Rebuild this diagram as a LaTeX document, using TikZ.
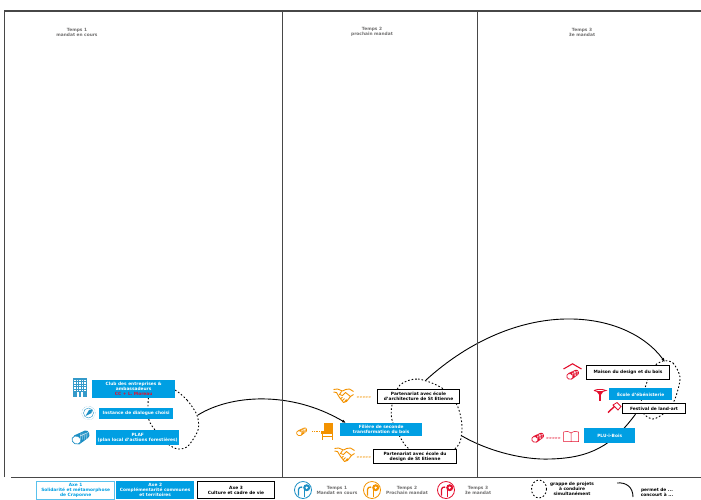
\documentclass[tikz,border=0pt]{standalone}
\usepackage{fontspec}
\setmainfont{DejaVu Sans}
\usepackage{xcolor}
\usetikzlibrary{
  arrows.meta,
  backgrounds,
  positioning,
  calc
}
\definecolor{axeblue}{HTML}{009FE3}
\definecolor{tempsorange}{HTML}{F39200}
\definecolor{tempsred}{HTML}{E30F2D}
\definecolor{tempsblue}{HTML}{1D8FC4}
\definecolor{greytext}{HTML}{706F6F}
\tikzset{
  txt/.style      = {font=\bfseries\fontsize{4.35}{5}\selectfont, align=center, inner sep=0pt},
  axeb/.style     = {txt, fill=axeblue, text=white, anchor=north west},
  axew/.style     = {txt, fill=white, draw=black, line width=1.1pt, anchor=north west},
  axel/.style     = {txt, fill=white, draw=axeblue!65, line width=1.3pt, text=axeblue, anchor=north west},
  head/.style     = {txt, text=greytext},
  legtemps/.style = {txt, text=greytext},
  legtxt/.style   = {txt},
  grappe/.style   = {line width=0.9pt, dash pattern=on 1.6pt off 2pt},
  lien/.style     = {line width=0.9pt, -{Latex[length=4pt,width=3pt]}},
  frameline/.style = {line width=1.1pt, black!72},
  chevrons/.style = {inner sep=0pt, font=\bfseries\fontsize{3.5}{4}\selectfont},
  % Icons
  logicon/.pic = {
    \fill [#1] (-7,-2.5) -- (4,-7.5) .. controls (8,-8.5) and (10,-2) .. (7,0) -- (-2,6.5) -- cycle;
    \draw [#1, fill=white, line width=0.7pt, rotate around={-25:(-4.5,2)}] (-4.5,2) ellipse (4.6 and 4);
    \foreach \lx in {0,2,4,6} \draw [white, line width=0.35pt] (\lx,-5.5) -- ++(-0.3,7);
    \draw [white, line width=0.35pt] (-1,-2) -- (7,-5.5);
  },
  templeicon/.pic = {
    \draw [#1, line width=0.8pt] (0,0) circle (8.5);
    \draw [#1, line width=1.3pt] (-4.5,5.5) -- (-4.5,-0.5) .. controls (-4.5,-2.5) and (-3,-3) .. (-0.8,-3);
    \draw [#1, line width=1.4pt] (1.4,6.5) -- (1.4,-2);
    \fill [#1] (3.7,-2.3) circle (3.5);
    \fill [white] (3.7,-2.3) circle (1.3);
  },
  handicon/.pic = {
    \draw [tempsorange, line width=0.9pt, line join=round]
      (-10,-6) -- (-6,-6.5) -- (-1,-4.5) -- (2,-6) -- (6,-6.5) -- (10,-4)
      (-10,-3.5) -- (-7,-3) -- (-4,2) -- (0,7) -- (3,6) -- (7,1) -- (10,-1)
      (-2,-4) -- (-4,-1) -- (-1,0) -- (2,-3) -- (7,1)
      (-3,3.5) -- (-1,1.5) (-1,5) -- (1,3) (1,6.5) -- (3,4);
  }
}
\begin{document}
\begin{tikzpicture}[x=1pt, y=-1pt]
  \useasboundingbox (0,0) rectangle (701,499);

  % Frame
  \draw [frameline] (4.5,477) -- (4.5,11) -- (701,11);
  \draw [frameline] (282.5,11) -- (282.5,477);
  \draw [frameline] (477.5,11) -- (477.5,477);
  \draw [frameline] (11,477.5) -- (701,477.5);

  \node [head] at (77,  32) {Temps 1\\mandat en cours};
  \node [head] at (372, 32) {Temps 2\\prochain mandat};
  \node [head] at (582, 32) {Temps 3\\3e mandat};

  % Project groups
  \draw [grappe] plot [smooth cycle] coordinates {(175,390) (187,400) (197,415) (198,430) (188,446) (178,449) (168,444) (155,430) (149,420) (148,405) (150,392) (160,385)};
  \draw [grappe] plot [smooth cycle] coordinates {(400,385) (418,379) (442,388) (457,405) (462,427) (457,447) (430,460) (408,448) (399,435) (392,420) (392,405)};
  \draw [grappe] plot [smooth cycle] coordinates {(663,361) (673,363) (680,377) (677,393) (672,405) (663,414) (653,419) (644,414) (641,402) (647,382) (652,368)};

  % Time 1
  \node [axeb, minimum width=83, minimum height=18] (club) at (92,380) {Club des entreprises \&\\ambassadeurs\\\textcolor{tempsred}{CC + L. Moreau}};
  \node [axeb, minimum width=74, minimum height=11] (instance) at (99,408) {Instance de dialogue choisi};
  \node [axeb, minimum width=83, minimum height=15] (plaf) at (96,430) {PLAF\\(plan local d'actions forestières)};

  % Time 2
  \node [axew, minimum width=82, minimum height=14] (archi) at (377,389) {Partenariat avec école\\d'architecture de St Etienne};
  \node [axeb, minimum width=82, minimum height=13] (filiere) at (340,423) {Filière de seconde\\transformation du bois};
  \node [axew, minimum width=83, minimum height=14] (design) at (373,449) {Partenariat avec école du\\design de St Etienne};

  % Time 3
  \node [axew, minimum width=83, minimum height=14] (maison) at (586,365) {Maison du design et du bois};
  \node [axeb, minimum width=63, minimum height=12] (ecole) at (609,388) {École d'ébénisterie};
  \node [axew, minimum width=63, minimum height=10] (festival) at (622,403) {Festival de land-art};
  \node [axeb, minimum width=51, minimum height=15] (plu) at (584,428) {PLU-i-Bois};

  % Links
  \coordinate (g1) at (198,415);
  \coordinate (g2a) at (426,380);
  \coordinate (g2b) at (462,436);
  \coordinate (g3) at (665,362);
  \begin{scope}[on background layer]
    \draw [lien] (g1) .. controls (230,395) and (290,390) .. ($(filiere.north west)+(6,0)$);
    \draw [lien] (g2a) .. controls (470,340) and (520,320) .. (565,319) .. controls (610,318) and (645,335) .. (g3);
    \draw [line width=0.9pt] (g2b) .. controls (490,452) and (525,460) .. (550,459) .. controls (590,458) and (612,446) .. ($(festival.south)+(-18.5,0)$);
  \end{scope}

  % Icons, time 1
  \fill [tempsblue!90] (72.5,378) rectangle (87,397);
  \foreach \wx in {74,76.5,...,84.5}
    \foreach \wy in {379.5,382,...,389.5}
      \fill [white] (\wx,\wy) rectangle ++(1.5,1.5);
  \fill [white] (77,392) rectangle (82.5,397);
  \fill [tempsblue!90] (79,392) rectangle (80.5,397);
  \draw [tempsblue, line width=0.3pt, densely dotted] (88.5,413) circle (6.8);
  \draw [tempsblue, line width=0.4pt] (88.5,413) circle (5);
  \fill [tempsblue] (85.5,416) -- (89,410) -- (92,409.5) -- (91.5,413) -- cycle;
  \pic at (81,438) {logicon=tempsblue};

  % Icons, time 2
  \pic at (343.5,395.5) {handicon};
  \pic at (344.5,454.5) {handicon};
  \node [chevrons, text=tempsorange] at (364,397.5) {{>}{>}{>}{>}{>}};
  \node [chevrons, text=tempsorange] at (364,457) {{>}{>}{>}{>}{>}};
  \pic [scale=0.6] at (302,432) {logicon=tempsorange};
  \draw [tempsorange, line width=0.8pt, densely dotted] (312,431) -- (320,431);
  \fill [tempsorange] (324,423) rectangle (333,431);
  \fill [tempsorange] (321,431) rectangle (333,433.5);
  \draw [tempsorange, line width=0.9pt] (322,433) -- (322,439.5) (332,425) -- (332,439.5);
  \draw [tempsorange, line width=0.5pt] (322,436.5) -- (332,436.5);

  % Icons, time 3
  \draw [tempsred, line width=1.1pt] (563.5,369) -- (572.5,363.8) -- (581.5,369);
  \pic [scale=0.7] at (573,375) {logicon=tempsred};
  \draw [tempsred, line width=1.3pt] (600,391) -- (600,401);
  \draw [tempsred, line width=0.8pt] (594,390.5) .. controls (597,389) and (603,389) .. (606,390.5) .. controls (603,392) and (597,392) .. (594,390.5);
  \fill [tempsred] (597,392) -- (603,392) -- (600,396) -- cycle;
  \draw [tempsred, line width=1.4pt] (608,412.5) -- (616,405);
  \draw [tempsred, line width=0.8pt, fill=white] (613,405) -- (617,402.5) -- (621,406.5) -- (618,410) -- cycle;
  \pic [scale=0.7] at (538,438) {logicon=tempsred};
  \node [chevrons, text=tempsred] at (553.5,438) {{>}{>}{>}{>}{>}};
  \draw [tempsred, line width=0.5pt] (571,433) .. controls (568,431) and (566,431) .. (563.5,432) -- (563.5,441.5) -- (578.5,441.5) -- (578.5,432) .. controls (576,431) and (574,431) .. (571,433) -- (571,441.5);

  % Legend
  \node [axel, minimum width=78, minimum height=18] (axe1) at (36,481) {Axe 1\\Solidarité et métamorphose\\de Craponne};
  \node [axeb, minimum width=78, minimum height=18] (axe2) at (116,481) {Axe 2\\Complémentarité communes\\et territoires};
  \node [axew, minimum width=77, minimum height=17] (axe3) at (197,481) {Axe 3\\Culture et cadre de vie};

  \pic at (303,490) {templeicon=tempsblue};
  \pic at (372,490) {templeicon=tempsorange};
  \pic at (446,490) {templeicon=tempsred};
  \node [legtemps] (t1) at (337,490) {Temps 1\\Mandat en cours};
  \node [legtemps] (t2) at (407,490) {Temps 2\\Prochain mandat};
  \node [legtemps] (t3) at (478,490) {Temps 3\\3e mandat};

  \draw [grappe] (539,489) ellipse (7.5 and 9);
  \node [legtxt] (lgrappe) at (572,489) {grappe de projets\\à conduire\\simultanément};
  \coordinate (la) at (617,483);
  \coordinate (lb) at (633,497);
  \draw [line width=0.9pt] (la) .. controls (626,482) and (633,487) .. (lb);
  \node [legtxt] (llien) at (657,492) {permet de ...\\concourt à ...};
\end{tikzpicture}
\end{document}
